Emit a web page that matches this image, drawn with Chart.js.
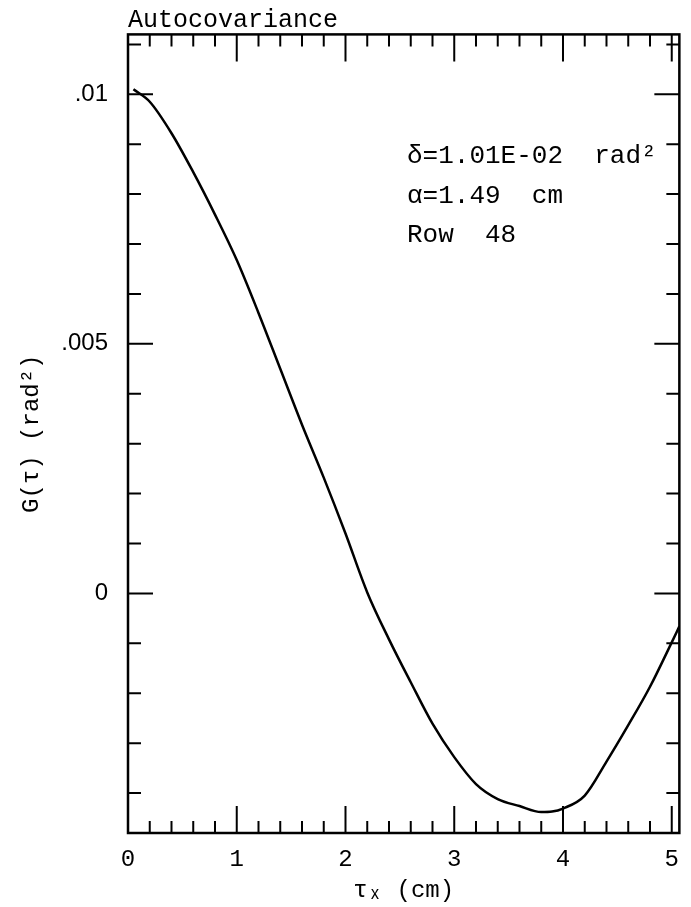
<!DOCTYPE html>
<html>
<head>
<meta charset="utf-8">
<script src="https://cdn.jsdelivr.net/npm/chart.js@4.4.1/dist/chart.umd.min.js"></script>
<style>
html, body { margin: 0; padding: 0; background: #fff; }
#wrap { width: 691px; height: 907px; }
</style>
</head>
<body>
<div id="wrap"><canvas id="chart" width="691" height="907"></canvas></div>
<script>
// lag (cm) and autocovariance (rad^2)
const lagCm = [0.05, 0.2, 0.4, 0.6, 0.8, 1.0, 1.2, 1.4, 1.6, 1.8, 2.0, 2.2, 2.4, 2.6, 2.8,
               3.0, 3.2, 3.4, 3.6, 3.8, 3.9, 4.0, 4.2, 4.4, 4.6, 4.8, 5.0, 5.07];
const autocov = [0.01010, 0.00985, 0.00922, 0.00844, 0.00759, 0.00668, 0.00562, 0.00450,
                 0.00338, 0.00232, 0.00120, 0.00002, -0.00092, -0.00178, -0.00261,
                 -0.00328, -0.00382, -0.00412, -0.00426, -0.00438, -0.00437, -0.00431,
                 -0.00405, -0.00337, -0.00264, -0.00187, -0.00098, -0.00066];

const xTickValues = [0, 1, 2, 3, 4, 5];
const xTickLabels = ['0', '1', '2', '3', '4', '5'];
const yTickValues = [0, 0.005, 0.01];
const yTickLabels = ['0', '.005', '.01'];

const chartTitle = 'Autocovariance';
const noteLines = ['\u03b4=1.01E-02  rad\u00b2', '\u03b1=1.49  cm', 'Row  48'];

const MONO = '"Liberation Mono", "DejaVu Sans Mono", monospace';
const SANS = '"Liberation Sans", Arial, sans-serif';

// box around the plot with inward ticks on all four sides, plus the text
const framePlugin = {
    id: 'frame',
    afterDatasetsDraw(chart) {
        const ctx = chart.ctx;
        const a = chart.chartArea;
        const xs = chart.scales.x;
        const ys = chart.scales.y;
        ctx.save();
        ctx.strokeStyle = '#000';
        ctx.lineWidth = 2.5;
        ctx.strokeRect(a.left, a.top, a.right - a.left, a.bottom - a.top);

        ctx.lineWidth = 2;
        ctx.beginPath();
        // x ticks every 0.2, long ones on whole numbers
        for (let i = 0; i * 0.2 <= xs.max; i++) {
            const v = i * 0.2;
            const px = xs.getPixelForValue(v);
            const len = (i % 5 === 0) ? 27 : 12;
            ctx.moveTo(px, a.bottom); ctx.lineTo(px, a.bottom - len);
            ctx.moveTo(px, a.top); ctx.lineTo(px, a.top + len);
        }
        // y ticks every 0.001, long ones every 0.005
        for (let k = Math.ceil(ys.min / 0.001); k * 0.001 <= ys.max; k++) {
            const py = ys.getPixelForValue(k * 0.001);
            const len = (k % 5 === 0) ? 25 : 13;
            ctx.moveTo(a.left, py); ctx.lineTo(a.left + len, py);
            ctx.moveTo(a.right, py); ctx.lineTo(a.right - len, py);
        }
        ctx.stroke();

        ctx.fillStyle = '#000';
        ctx.font = '25px ' + MONO;
        ctx.textAlign = 'left';
        ctx.textBaseline = 'alphabetic';
        ctx.fillText(chartTitle, a.left, 27);

        ctx.font = '26px ' + MONO;
        noteLines.forEach(function(line, i) {
            ctx.fillText(line, 407, 163 + i * 39.5);
        });
        ctx.restore();
    }
};

const points = lagCm.map(function(x, i) { return { x: x, y: autocov[i] }; });

new Chart(document.getElementById('chart'), {
    type: 'line',
    data: {
        datasets: [{
            data: points,
            borderColor: '#000',
            borderWidth: 2.5,
            pointRadius: 0,
            fill: false,
            cubicInterpolationMode: 'monotone'
        }]
    },
    options: {
        responsive: false,
        animation: false,
        layout: { padding: { top: 32, right: 4, left: 0, bottom: 0 } },
        plugins: {
            legend: { display: false },
            tooltip: { enabled: false }
        },
        scales: {
            x: {
                type: 'linear',
                min: 0,
                max: 5.07,
                grid: { display: false, drawTicks: false },
                border: { display: false },
                afterBuildTicks: function(scale) {
                    scale.ticks = xTickValues.map(function(v) { return { value: v }; });
                },
                afterFit: function(scale) { scale.height = 74; },
                ticks: {
                    padding: 12,
                    color: '#000',
                    maxRotation: 0,
                    autoSkip: false,
                    font: { family: MONO, size: 24 },
                    callback: function(v) {
                        const i = xTickValues.indexOf(v);
                        return i >= 0 ? xTickLabels[i] : '';
                    }
                },
                title: {
                    display: true,
                    text: '\u03c4\u2093 (cm)',
                    color: '#000',
                    font: { family: MONO, size: 24 },
                    padding: { top: 0, bottom: 2 }
                }
            },
            y: {
                type: 'linear',
                min: -0.0048,
                max: 0.0112,
                grid: { display: false, drawTicks: false },
                border: { display: false },
                afterBuildTicks: function(scale) {
                    scale.ticks = yTickValues.map(function(v) { return { value: v }; });
                },
                afterFit: function(scale) { scale.width = 128; },
                ticks: {
                    padding: 20,
                    color: '#000',
                    autoSkip: false,
                    font: { family: SANS, size: 24 },
                    callback: function(v) {
                        const i = yTickValues.indexOf(v);
                        return i >= 0 ? yTickLabels[i] : '';
                    }
                },
                title: {
                    display: true,
                    text: 'G(\u03c4) (rad\u00b2)',
                    color: '#000',
                    font: { family: MONO, size: 24 },
                    padding: { top: 17, bottom: 0 }
                }
            }
        }
    },
    plugins: [framePlugin]
});
</script>
</body>
</html>
